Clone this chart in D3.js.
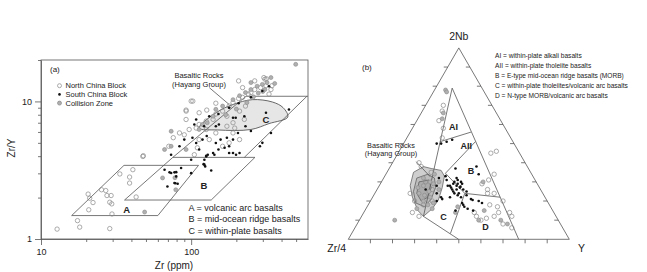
<!DOCTYPE html>
<meta charset="utf-8">
<style>
  body {
    margin: 0;
    background: #fff;
    font-family: "Liberation Sans", Arial, sans-serif;
  }
  text {
    fill: #222;
  }
  .frame, .field {
    fill: none;
    stroke: #555;
    stroke-width: 0.8;
  }
  .axis path, .axis line {
    stroke: #555;
    stroke-width: 0.8;
  }
  .axis text {
    font-size: 9px;
    fill: #222;
    font-family: "Liberation Sans", Arial, sans-serif;
  }
  .lbl {
    font-weight: bold;
  }
</style>
<body>
<svg id="chart" width="647" height="272"></svg>

<script src="https://d3js.org/d3.v7.min.js"></script>
<script>

// ---- panel (a): Zr (ppm) vs Zr/Y ----
var xTicks = [10, 20, 30, 40, 50, 60, 70, 80, 90, 100, 200, 300, 400, 500],
    yTicks = [1, 2, 3, 4, 5, 6, 7, 8, 9, 10, 20],
    majorTicks = [1, 10, 100];

var ncbA = [[12.8,1.18],[17.5,1.36],[18.1,1.22],[28.7,1.19],[20.6,2.12],[21.1,1.98],[22.2,1.84],[20.8,1.63],
  [25.3,2.28],[27,2.25],[27.5,2.07],[29.3,2.07],[28.7,1.85],[29.6,1.8],[29.7,1.52],[33.5,2.97],[38.9,2.82],
  [38.9,2.55],[40.9,3.19],[43,2.02],[48,4.03],[47.7,3.98],
  [97,6.25],[113,6.8],[126,7.2],[140,7.4],[146,8.1],[162,8.5],[179,9.25],[190,9.8],[207,10.5],[220,10.7],
  [240,11.3],[250,11.6],[265,12.2],[290,12.6],[315,13],[340,12.2],[265,14.1],[310,14.5],[345,13],[330,11.3],
  [230,9.25],[226,7.4],[190,7],[173,7.8],[210,8.5],[146,9.7],[127,8.65],[113,8.27],[92.5,7.39],[83.6,5.9],
  [76,5.45],[71,4.72],[90,5.72],[108,6.4],[113,5.28],[132,5.28],[126,6.25],[173,6.6],[195,6.4],[190,5.9],
  [210,5.28],[146,5.9],[179,5],[162,4.72],[110,4.6],[105,4.1],[92.5,8.65],[100,10.05],[207,14.1],[305,14.9],
  [317,14.6],[220,12.6],[102.6,10.05],[92.6,8.5]];

var czA = [[49,1.57],[64.5,2.78],[78,2.79],[79,2.28],[73.6,6.07],[73.5,4.72],[66.5,4.47],[92.5,4.47],
  [140,7.8],[146,8.76],[162,9.25],[190,10.3],[210,11],[230,11.6],[250,12.2],[275,12.9],[298,13.3],[320,13.7],
  [310,12.2],[250,13.7],[340,14.9],[497,18.6],[128,7],[113,6.25],[119,6.8],[280,11.5],[260,10.8],[300,11.8],
  [235,9.8],[200,8.8],[170,8.0],[360,13.5]];

var scbA = [[66.5,3.19],[71.8,3.05],[79.5,3.06],[85.7,3.28],[100,3.01],[69.5,2.41],[78.5,2.54],[79.5,2.85],
  [77.4,3.05],[73.6,3.02],[77.4,2.55],[81.3,2.52],
  [122.5,3.77],[126,4.03],[142.8,4.1],[179,4.22],[199,4.1],[122.5,3.47],[136,3.15],[100,3.77],[121,3.5],[124,3.37],
  [73.5,4.1],[83.6,4.72],[90,5.28],[102,5.45],[108,4.99],[119,5.28],[127,5.6],[146,4.99],[157,5.28],[173,5.45],
  [179,4.72],[190,4.22],[210,4.22],[126,3.98],[129,4.1],[140,4.22],[152,4.47],[167,4.6],[113,4.47],[190,5.28],
  [205,5.9],[230,6.6],[250,6.1],[287,4.72],[298,5.0],[340,5.9],[448,8.74],[198,7.6],[146,6.6],[153,6.8],
  [315,8.27],[226,7.8],[190,7.6],[122,6.6],[105,6.8],[108,7.39],[132,7.8],[152,8.1],[179,9.0],[207,9.7],
  [250,10.7],[298,11.9],[330,12.9]];

// field outlines (Zr, Zr/Y)
var fieldA = [[16,1.48],[60,1.48],[112,3.43],[35.7,3.43]],
    fieldB = [[36,1.92],[136,1.92],[266,3.92],[75.5,3.92]],
    fieldCLeft = [[75.5,3.92],[232,10.9],[600,10.9]],
    fieldCRight = [[226,3.92],[590,10.9]],
    hayangA = [[113,6.4],[147,8.3],[190,9.5],[256,10.3],[348,9.9],[410,9.0],[440,7.7],[330,6.9],[250,6.25],[150,6.2]],
    leaderA = [[132,12.6],[179,9.5]];

var legendA = ["North China Block", "South China Block", "Collision Zone"],
    keyA = ["A = volcanic arc basalts", "B = mid-ocean ridge basalts", "C = within-plate basalts"],
    fieldLabelsA = [["A", 37.2, 1.65], ["B", 121.6, 2.44], ["C", 315, 7.4]];

// ---- panel (b): 2Nb - Zr/4 - Y ternary, points as [2Nb %, Y %] ----
var ncbB = [[70,8],[67,9],[62,10],[58,14],[53,16],[45,42],[46,44],[29,46],[31,48],[26,50],[34,49],[14,50],
  [12,52],[10,55],[11,57],[12,60],[14,61],[8,66],[14,66],[12,68],[6,71],[17,59],[20,60],[24,54],[24,51],
  [24,16],[20,20],[14,22],[12,26],[18,55],[30,20],[26,25],[20,28],[35,20],[18,25],[40,12],[38,14]];

var czB = [[78,5],[77,6],[66,10],[63,11],[10,54],[10,64],[17,41],[14,41.5],[16,23],[10,16],[30,46],[15,54],
  [8,68],[30,22],[25,24],[28,20],[32,18],[22,26],[20,24],[18,27],[26,28],[30,26],[34,22],[24,20],[16,30],
  [27,18],[23,23],[29,24],[19,29]];

var scbB = [[50,15],[51,19],[52,21],[28,31],[28,32],[29,33],[28,35],[29,35],[27.5,37],[26,34],[24,36],[22,35],
  [23,38],[26,39],[23,42],[21,45],[20.5,46],[34,42],[38,39],[33,27.5],[31,29],[21,32],[15,41],[20,49],[19,51],
  [17,44],[16,46],[15,49],[31,34],[30,36],[30,33],[27,37],[50,17],[37,30],[28,26],[24,28],[20,30],[32,25],
  [26,22],[22,31],[27,33],[25,35],[26,36],[24,38],[22,40],[25,41],[19,42],[18,43],[29,37],[32,33]];

var fieldLinesB = [
  [[79,7.5],[12,28]],          // outer left
  [[79,7.5],[0,77.1]],         // outer right
  [[51,16],[56,27.5]],         // AI / AII
  [[51,32],[34.5,26.7]],       // AII / B
  [[34.5,26.7],[24,40.7]],     // C top
  [[24,40.7],[22,57.7]],       // B / D
  [[24,40.7],[3,44.7]],        // C / D
  [[12,28],[0,49.9]]           // C bottom
];

var hayangB = [[35,12],[38,15],[37,19],[36,24],[33,27],[27,29],[20.5,30.5],[16,30],[12,28],[15,24],[22,18],[28,14]],
    hayangB2 = [[32,15],[34,19],[32,23],[27,26],[21,27],[17,26],[19,21],[25,17]],
    hayangB3 = [[30,17],[31,21],[27,24],[22,25],[20,23],[24,19]],
    leaderB = [[40.5,10.5],[32.7,20.7]];

var fieldLabelsB = [["AI",[58.8,18.2]],["AII",[48.7,29]],["B",[35.8,37.6]],["C",[11.8,37.2]],["D",[6.3,58.9]]],
    keyB = ["AI = within-plate alkali basalts",
            "AII = within-plate tholeiite basalts",
            "B = E-type mid-ocean ridge basalts (MORB)",
            "C = within-plate tholeiites/volcanic arc basalts",
            "D = N-type MORB/volcanic arc basalts"];

var svg = d3.select("#chart");

// ================= panel (a) =================
var x = d3.scaleLog().domain([10, 600]).range([41, 308]),
    y = d3.scaleLog().domain([1, 20]).range([239, 60]);

var ga = svg.append("g");

var xAxis = ga.append("g")
    .attr("class", "axis")
    .attr("transform", "translate(0,239)")
    .call(d3.axisBottom(x).tickValues(xTicks).tickSize(3).tickSizeOuter(0)
      .tickFormat(function(d) { return majorTicks.indexOf(d) >= 0 ? d : ""; }));
xAxis.selectAll(".tick").filter(function(d) { return majorTicks.indexOf(d) >= 0; })
    .select("line").attr("y2", 6);
xAxis.selectAll(".tick text").attr("dy", "1.1em");

var yAxis = ga.append("g")
    .attr("class", "axis")
    .attr("transform", "translate(41,0)")
    .call(d3.axisLeft(y).tickValues(yTicks).tickSize(3).tickSizeOuter(0)
      .tickFormat(function(d) { return majorTicks.indexOf(d) >= 0 ? d : ""; }));
yAxis.selectAll(".tick").filter(function(d) { return majorTicks.indexOf(d) >= 0; })
    .select("line").attr("x2", -6);
yAxis.selectAll(".tick text").attr("x", -9);

ga.append("rect")
    .attr("class", "frame")
    .attr("x", x(10)).attr("y", y(20))
    .attr("width", x(600) - x(10)).attr("height", y(1) - y(20));

ga.append("text")
    .attr("transform", "translate(15,148)rotate(-90)")
    .attr("text-anchor", "middle")
    .style("font-size", "10px")
    .text("Zr/Y");
ga.append("text")
    .attr("x", 174).attr("y", 269)
    .attr("text-anchor", "middle")
    .style("font-size", "10px")
    .text("Zr (ppm)");

var lineA = d3.line()
    .x(function(d) { return x(d[0]); })
    .y(function(d) { return y(d[1]); });

ga.append("path")
    .datum(hayangA)
    .attr("d", lineA.curve(d3.curveCatmullRomClosed.alpha(0.5)))
    .style("fill", "#e6e6e6")
    .style("stroke", "#444")
    .style("stroke-width", 0.8);

lineA.curve(d3.curveLinear);
ga.append("path").datum(fieldA).attr("class", "field").attr("d", function(d) { return lineA(d) + "Z"; });
ga.append("path").datum(fieldB).attr("class", "field").attr("d", function(d) { return lineA(d) + "Z"; });
ga.append("path").datum(fieldCLeft).attr("class", "field").attr("d", lineA);
ga.append("path").datum(fieldCRight).attr("class", "field").attr("d", lineA);
ga.append("path").datum(leaderA).attr("class", "field").attr("d", lineA);

ga.selectAll("circle.ncb")
    .data(ncbA)
  .enter().append("circle")
    .attr("class", "ncb")
    .attr("cx", function(d) { return x(d[0]); })
    .attr("cy", function(d) { return y(d[1]); })
    .attr("r", 2.2)
    .style("fill", "none")
    .style("stroke", "#888")
    .style("stroke-width", 0.7);

ga.selectAll("circle.cz")
    .data(czA)
  .enter().append("circle")
    .attr("class", "cz")
    .attr("cx", function(d) { return x(d[0]); })
    .attr("cy", function(d) { return y(d[1]); })
    .attr("r", 2)
    .style("fill", "#b0b0b0")
    .style("stroke", "#8a8a8a")
    .style("stroke-width", 0.6);

ga.selectAll("circle.scb")
    .data(scbA)
  .enter().append("circle")
    .attr("class", "scb")
    .attr("cx", function(d) { return x(d[0]); })
    .attr("cy", function(d) { return y(d[1]); })
    .attr("r", 1.3)
    .style("fill", "#111");

ga.selectAll("text.flab")
    .data(fieldLabelsA)
  .enter().append("text")
    .attr("class", "flab lbl")
    .attr("x", function(d) { return x(d[1]); })
    .attr("y", function(d) { return y(d[2]); })
    .attr("text-anchor", "middle")
    .attr("dominant-baseline", "central")
    .style("font-size", "9.5px")
    .text(function(d) { return d[0]; });

ga.append("text").attr("x", 50).attr("y", 72).style("font-size", "8px").text("(a)");

// symbol legend
var legA = ga.selectAll("g.leg")
    .data(legendA)
  .enter().append("g")
    .attr("class", "leg")
    .attr("transform", function(d, i) { return "translate(59.5," + (85.7 + i * 8.7) + ")"; });
legA.append("circle")
    .attr("r", function(d, i) { return i === 1 ? 1.3 : 2; })
    .style("fill", function(d, i) { return ["none", "#111", "#b0b0b0"][i]; })
    .style("stroke", function(d, i) { return i === 1 ? "none" : "#888"; })
    .style("stroke-width", 0.7);
legA.append("text")
    .attr("x", 6).attr("y", 2.6)
    .style("font-size", "7.5px")
    .text(function(d) { return d; });

ga.selectAll("text.keyA")
    .data(keyA)
  .enter().append("text")
    .attr("class", "keyA")
    .attr("x", 188.5)
    .attr("y", function(d, i) { return 210.8 + i * 11.5; })
    .style("font-size", "9px")
    .text(function(d) { return d; });

ga.append("text").attr("x", 199).attr("y", 78).attr("text-anchor", "middle")
    .style("font-size", "7.5px").text("Basaltic Rocks");
ga.append("text").attr("x", 199).attr("y", 87).attr("text-anchor", "middle")
    .style("font-size", "7.5px").text("(Hayang Group)");

// ================= panel (b) =================
var tx = d3.scaleLinear().domain([0, 100]).range([348.3, 569.3]),
    ty = d3.scaleLinear().domain([0, 100]).range([239.3, 239.3 - 221 * Math.sqrt(3) / 2]);

function proj(d) {
  return [tx(d[1] + d[0] / 2), ty(d[0])];
}

var gb = svg.append("g");
var lineB = d3.line()
    .x(function(d) { return proj(d)[0]; })
    .y(function(d) { return proj(d)[1]; });

gb.append("path")
    .datum([[0,0],[0,100],[100,0]])
    .attr("class", "field")
    .attr("d", function(d) { return lineB(d) + "Z"; });

// ticks every 10 %
var tk = d3.range(10, 100, 10);
gb.selectAll("line.tb").data(tk).enter().append("line")
    .attr("class", "field")
    .attr("x1", function(d) { return tx(d); }).attr("x2", function(d) { return tx(d); })
    .attr("y1", ty(0)).attr("y2", ty(0) + 4);
gb.selectAll("line.tl").data(tk).enter().append("line")
    .attr("class", "field")
    .attr("x1", function(d) { return proj([d, 0])[0]; })
    .attr("x2", function(d) { return proj([d, 0])[0] - 4; })
    .attr("y1", function(d) { return ty(d); }).attr("y2", function(d) { return ty(d); });
gb.selectAll("line.tr").data(tk).enter().append("line")
    .attr("class", "field")
    .attr("x1", function(d) { return proj([d, 100 - d])[0]; })
    .attr("x2", function(d) { return proj([d, 100 - d])[0] - 4; })
    .attr("y1", function(d) { return ty(d); }).attr("y2", function(d) { return ty(d); });

[[hayangB, "#cfcfcf"], [hayangB2, "#bdbdbd"], [hayangB3, "#ababab"]].forEach(function(h) {
  gb.append("path")
      .datum(h[0])
      .attr("d", function(d) { return lineB(d) + "Z"; })
      .style("fill", h[1])
      .style("stroke", "#555")
      .style("stroke-width", 0.7);
});

gb.selectAll("path.fl")
    .data(fieldLinesB)
  .enter().append("path")
    .attr("class", "field fl")
    .attr("d", lineB);
gb.append("path").datum(leaderB).attr("class", "field").attr("d", lineB);

gb.selectAll("circle.ncb")
    .data(ncbB)
  .enter().append("circle")
    .attr("class", "ncb")
    .attr("cx", function(d) { return proj(d)[0]; })
    .attr("cy", function(d) { return proj(d)[1]; })
    .attr("r", 2.2)
    .style("fill", "none")
    .style("stroke", "#888")
    .style("stroke-width", 0.7);

gb.selectAll("circle.cz")
    .data(czB)
  .enter().append("circle")
    .attr("class", "cz")
    .attr("cx", function(d) { return proj(d)[0]; })
    .attr("cy", function(d) { return proj(d)[1]; })
    .attr("r", 2)
    .style("fill", "#b0b0b0")
    .style("stroke", "#8a8a8a")
    .style("stroke-width", 0.6);

gb.selectAll("circle.scb")
    .data(scbB)
  .enter().append("circle")
    .attr("class", "scb")
    .attr("cx", function(d) { return proj(d)[0]; })
    .attr("cy", function(d) { return proj(d)[1]; })
    .attr("r", 1.3)
    .style("fill", "#111");

gb.selectAll("text.flab")
    .data(fieldLabelsB)
  .enter().append("text")
    .attr("class", "flab lbl")
    .attr("x", function(d) { return proj(d[1])[0]; })
    .attr("y", function(d) { return proj(d[1])[1]; })
    .attr("text-anchor", "middle")
    .attr("dominant-baseline", "central")
    .style("font-size", "9px")
    .text(function(d) { return d[0]; });

gb.append("text").attr("x", 458.8).attr("y", 40).attr("text-anchor", "middle")
    .style("font-size", "10.5px").text("2Nb");
gb.append("text").attr("x", 346).attr("y", 252).attr("text-anchor", "end")
    .style("font-size", "10.5px").text("Zr/4");
gb.append("text").attr("x", 578).attr("y", 252)
    .style("font-size", "10.5px").text("Y");
gb.append("text").attr("x", 362).attr("y", 70).style("font-size", "8px").text("(b)");

gb.append("text").attr("x", 391).attr("y", 147.5).attr("text-anchor", "middle")
    .style("font-size", "7.3px").text("Basaltic Rocks");
gb.append("text").attr("x", 391).attr("y", 155.8).attr("text-anchor", "middle")
    .style("font-size", "7.3px").text("(Hayang Group)");

gb.selectAll("text.keyB")
    .data(keyB)
  .enter().append("text")
    .attr("class", "keyB")
    .attr("x", 495)
    .attr("y", function(d, i) { return 57.5 + i * 10.1; })
    .style("font-size", "6.6px")
    .text(function(d) { return d; });

</script>
</body>
